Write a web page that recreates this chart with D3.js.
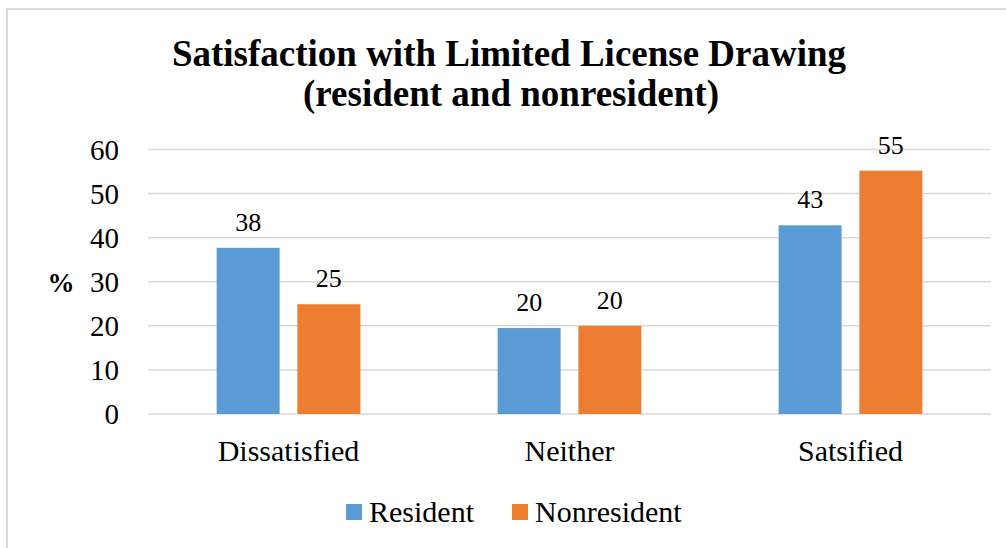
<!DOCTYPE html>
<html>
<head>
<meta charset="utf-8">
<script src="https://cdn.jsdelivr.net/npm/d3@7"></script>
<style>
  body { margin: 0; background: #fff; }
  svg, svg g, svg text { font-family: "Liberation Serif" !important; }
</style>
</head>
<body>
<svg id="fig" width="1006" height="548"></svg>
<script>
const categories = ["Dissatisfied", "Neither", "Satsified"];
const seriesNames = ["Resident", "Nonresident"];
const resident = [37.7, 19.5, 42.8];
const nonresident = [24.9, 20.0, 55.2];
const labels = [[38, 20, 43], [25, 20, 55]];
const yTicks = [0, 10, 20, 30, 40, 50, 60];
const colors = ["#5b9bd5", "#ed7d31"];
const serif = "Liberation Serif";

const svg = d3.select("#fig");

// chart frame (only top and left edges fall inside the picture)
svg.append("rect")
    .attr("x", 7).attr("y", 9)
    .attr("width", 1020).attr("height", 560)
    .attr("fill", "none")
    .attr("stroke", "#d9d9d9")
    .attr("stroke-width", 2);

// title
svg.append("text")
    .attr("x", 509).attr("y", 66)
    .attr("text-anchor", "middle")
    .attr("font-size", 37).attr("font-weight", "bold")
    .text("Satisfaction with Limited License Drawing");
svg.append("text")
    .attr("x", 511).attr("y", 106)
    .attr("text-anchor", "middle")
    .attr("font-size", 37).attr("font-weight", "bold")
    .text("(resident and nonresident)");

const x0 = d3.scaleBand().domain(categories).range([148, 991]);
const x1 = d3.scaleBand().domain(seriesNames).range([0, x0.bandwidth()])
    .paddingInner(0.22).paddingOuter(0.85);
const y = d3.scaleLinear().domain([0, 60]).range([414, 149.5]);

// gridlines
svg.append("g")
    .selectAll("line")
    .data(yTicks)
    .join("line")
    .attr("x1", 148).attr("x2", 991)
    .attr("y1", d => y(d)).attr("y2", d => y(d))
    .attr("stroke", "#d9d9d9")
    .attr("stroke-width", 1.5);

// y axis labels
const yAxis = svg.append("g")
    .attr("transform", "translate(128,0)")
    .call(d3.axisLeft(y).tickValues(yTicks).tickSize(0).tickPadding(9));
yAxis.select(".domain").remove();
yAxis.selectAll("text")
    .attr("font-size", 29)
    .attr("dy", "0.34em");

svg.append("text")
    .attr("x", 61).attr("y", 292)
    .attr("text-anchor", "middle")
    .attr("font-size", 27).attr("font-weight", "bold")
    .text("%");

// bars
const values = [resident, nonresident];
const rows = [];
seriesNames.forEach((s, si) => {
    categories.forEach((c, ci) => {
        rows.push({ cat: c, series: s, si: si, value: values[si][ci], label: labels[si][ci] });
    });
});

svg.append("g")
    .selectAll("rect")
    .data(rows)
    .join("rect")
    .attr("x", d => x0(d.cat) + x1(d.series))
    .attr("y", d => y(d.value))
    .attr("width", x1.bandwidth())
    .attr("height", d => y(0) - y(d.value))
    .attr("fill", d => colors[d.si]);

svg.append("g")
    .selectAll("text")
    .data(rows)
    .join("text")
    .attr("x", d => x0(d.cat) + x1(d.series) + x1.bandwidth() / 2)
    .attr("y", d => y(d.value) - 17)
    .attr("text-anchor", "middle")
    .attr("font-size", 26)
    .text(d => d.label);

// category labels
const xAxis = svg.append("g")
    .attr("transform", "translate(0,414)")
    .call(d3.axisBottom(x0).tickSize(0).tickPadding(0));
xAxis.select(".domain").remove();
xAxis.selectAll("text")
    .attr("font-size", 30)
    .attr("dy", null)
    .attr("y", 47);

// legend
const legendX = [346, 512];
const legend = svg.append("g")
    .selectAll("g")
    .data(seriesNames)
    .join("g")
    .attr("transform", (d, i) => `translate(${legendX[i]},504)`);
legend.append("rect")
    .attr("width", 16).attr("height", 16)
    .attr("fill", (d, i) => colors[i]);
legend.append("text")
    .attr("x", 23).attr("y", 18)
    .attr("font-size", 30)
    .text(d => d);

// every text in serif, axis groups included
svg.selectAll("g").attr("font-family", serif);
svg.selectAll("text")
    .attr("font-family", serif)
    .style("font-family", serif, "important")
    .attr("fill", "#000");
</script>
</body>
</html>
